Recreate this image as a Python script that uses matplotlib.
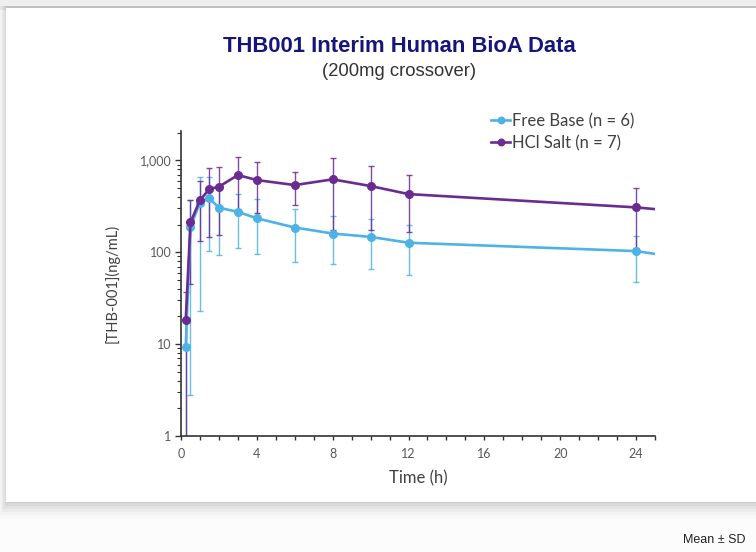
import matplotlib
matplotlib.use("Agg")
import matplotlib.pyplot as plt
from matplotlib.patches import Rectangle
from matplotlib.ticker import FixedLocator, LogLocator, NullFormatter, FuncFormatter
import numpy as np

# sampling times (h); the last entry is where the curve leaves the axis
time = [0.25, 0.5, 1, 1.5, 2, 3, 4, 6, 8, 10, 12, 24, 25]

# Free Base (n = 6): mean, lower and upper bar ends (ng/mL)
fb_mean = [9.4, 189, 346, 386, 305, 276, 234, 186, 160, 147, 127, 103, 96]
fb_low = [0.5, 2.8, 23, 104, 93, 112, 95, 79, 74, 66, 56, 48]
fb_high = [19, 375, 654, 664, 517, 430, 377, 293, 249, 228, 198, 151]

# HCl Salt (n = 7)
hcl_mean = [18.4, 211, 370, 488, 517, 693, 611, 539, 622, 526, 430, 308, 295]
hcl_low = [0.5, 45, 133, 147, 156, 289, 269, 325, 174, 175, 167, 112]
hcl_high = [37, 373, 601, 820, 853, 1097, 953, 753, 1070, 869, 693, 504]

labels = ["Free Base (n = 6)", "HCl Salt (n = 7)"]
colors = ["#4db3e6", "#6a2c91"]

plt.rcParams['font.family'] = ['Lato', 'DejaVu Sans']

fig = plt.figure(figsize=(7.56, 5.52), dpi=100)
fig.patch.set_facecolor('#fcfcfc')
W, H = 756, 552

# grey strip at top, card with soft shadow
fig.patches.append(Rectangle((0, 1 - 10 / H), 1, 10 / H, transform=fig.transFigure,
                             facecolor='#eeeeee', edgecolor='none', zorder=-5))
for i, a in enumerate([0.05, 0.04, 0.035, 0.03, 0.02, 0.015]):
    fig.patches.append(Rectangle(((6 - i * 1.5) / W, 1 - (503 + i * 3) / H),
                                 760 / W, (497 + i * 3) / H,
                                 transform=fig.transFigure, facecolor='#000000',
                                 alpha=a, edgecolor='none', zorder=-4))
fig.patches.append(Rectangle((6 / W, 1 - 502 / H), 760 / W, 494 / H,
                             transform=fig.transFigure, facecolor='white',
                             edgecolor='none', zorder=-3))

ax = fig.add_axes([181 / W, 1 - 436 / H, (655 - 181) / W, (436 - 131) / H])
ax.set_facecolor('none')

series = [(fb_mean, fb_low, fb_high), (hcl_mean, hcl_low, hcl_high)]
for (m, lo, hi), c, lab in zip(series, colors, labels):
    n = len(lo)
    t = time[:n]
    mm = np.array(m[:n])
    yerr = [mm - np.array(lo), np.array(hi) - mm]
    ax.errorbar(t, mm, yerr=yerr, fmt='none', ecolor=c, elinewidth=1.0,
                capsize=2.2, capthick=1.0, alpha=0.85, zorder=2)
    ax.plot(time, m, color=c, lw=1.9, marker='o', ms=5.5,
            markevery=list(range(n)), label=lab, zorder=3)

ax.set_yscale('log')
ax.set_ylim(1, 2090)
ax.set_xlim(0, 25)

ax.xaxis.set_major_locator(FixedLocator([0, 4, 8, 12, 16, 20, 24]))
ax.xaxis.set_minor_locator(FixedLocator(range(0, 26)))
ax.yaxis.set_major_locator(FixedLocator([1, 10, 100, 1000]))
ax.yaxis.set_minor_locator(LogLocator(base=10, subs=np.arange(2, 10)))
ax.yaxis.set_minor_formatter(NullFormatter())
ax.yaxis.set_major_formatter(FuncFormatter(lambda v, p: f"{v:,.0f}"))

for s in ['top', 'right']:
    ax.spines[s].set_visible(False)
for s in ['left', 'bottom']:
    ax.spines[s].set_color('#333333')
    ax.spines[s].set_linewidth(1.2)

ax.tick_params(axis='both', which='both', direction='out', color='#333333',
               labelcolor='#595959', labelsize=9)
ax.tick_params(axis='x', which='major', length=3, width=1.0, pad=6)
ax.tick_params(axis='x', which='minor', length=3, width=1.0)
ax.tick_params(axis='y', which='major', length=4, width=1.0, pad=3)
ax.tick_params(axis='y', which='minor', length=3, width=0.8)

ax.set_xlabel("Time (h)", fontsize=12, color='#404040', labelpad=7)
ax.set_ylabel("[THB-001](ng/mL)", fontsize=10.5, color='#404040', labelpad=14)

fig.legend(loc='upper left', bbox_to_anchor=(491 / W, 1 - 113 / H),
           frameon=False, fontsize=12, handlelength=1.15, handletextpad=0.1,
           labelspacing=0.35, borderaxespad=0, borderpad=0,
           labelcolor='#404040', markerscale=0.85)

fig.text(399 / W, 1 - 46 / H, "THB001 Interim Human BioA Data",
         ha='center', va='center', fontsize=15.8, fontweight='bold',
         color='#15157a', family=['Liberation Sans', 'DejaVu Sans'])
fig.text(399 / W, 1 - 72 / H, "(200mg crossover)", ha='center', va='center',
         fontsize=13.3, color='#333333', family=['Liberation Sans', 'DejaVu Sans'])
fig.text(714 / W, 1 - 540 / H, "Mean \u00b1 SD", ha='center', va='center',
         fontsize=9, color='#222222', family=['Liberation Sans', 'DejaVu Sans'])

fig.savefig("out.png", dpi=100, facecolor=fig.get_facecolor())
